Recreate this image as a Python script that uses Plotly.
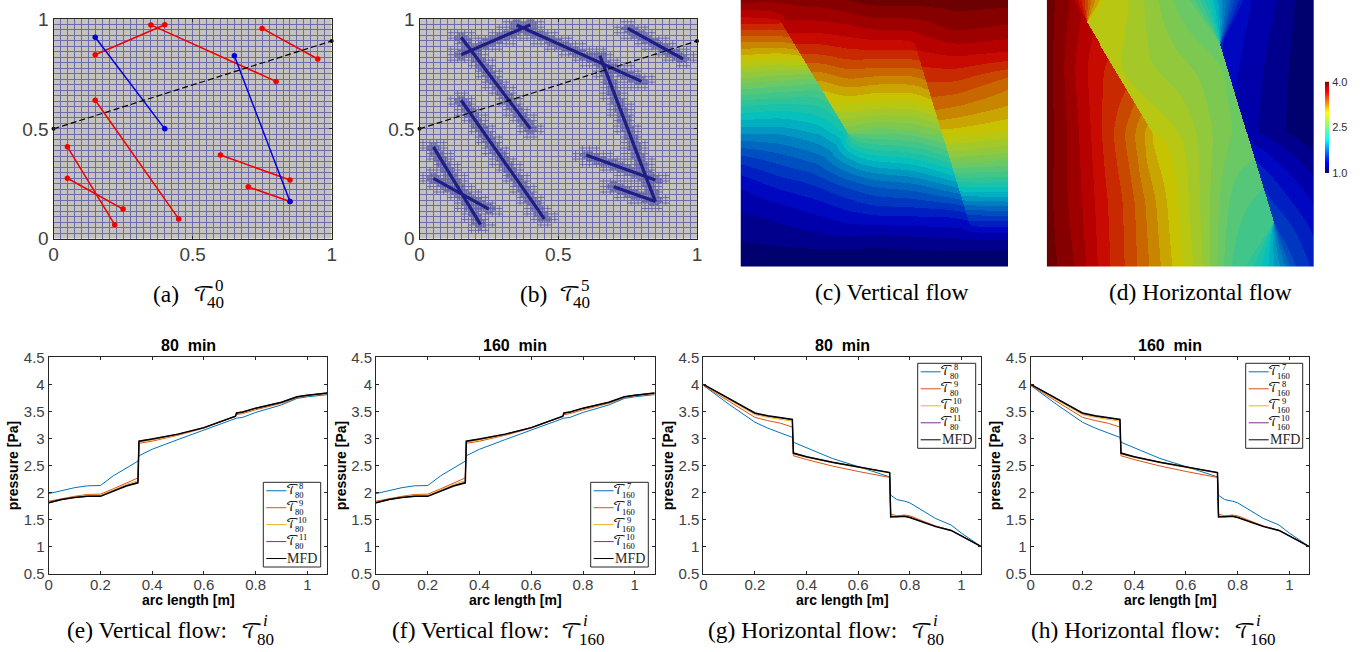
import numpy as np
import plotly.graph_objects as go

W, H = 1370, 652

# ---------- data ----------
RED_FRACTURES = [
    [(0.15, 0.837), (0.40, 0.974)],
    [(0.35, 0.973), (0.80, 0.716)],
    [(0.75, 0.957), (0.95, 0.818)],
    [(0.15, 0.630), (0.45, 0.090)],
    [(0.05, 0.418), (0.22, 0.064)],
    [(0.05, 0.275), (0.25, 0.135)],
    [(0.60, 0.381), (0.85, 0.267)],
    [(0.70, 0.236), (0.85, 0.169)],
]
BLUE_FRACTURES = [
    [(0.15, 0.917), (0.40, 0.500)],
    [(0.65, 0.833), (0.85, 0.169)],
]
SECTION_X = [0, 1]
SECTION_Y = [0.5, 0.9]
MESH_TICKS = [0, 0.5, 1]

# pressure along the section, vertical flow
arc_v = [0, .05, .1, .15, .2, .25, .3, .345, .349, .4, .5, .6, .7, .722, .726, .75, .8, .9, .96, 1, 1.077]
v_blue = [1.98, 2.03, 2.09, 2.125, 2.13, 2.31, 2.46, 2.58, 2.68, 2.80, 2.98, 3.15, 3.33, 3.37, 3.375, 3.39, 3.48, 3.62, 3.74, 3.77, 3.81]
v_orange = [1.84, 1.89, 1.93, 1.965, 1.97, 2.07, 2.18, 2.27, 2.91, 2.95, 3.06, 3.19, 3.37, 3.40, 3.44, 3.46, 3.53, 3.65, 3.75, 3.79, 3.83]
v_yellow = [1.82, 1.875, 1.92, 1.95, 1.95, 2.05, 2.15, 2.22, 2.93, 2.97, 3.07, 3.2, 3.38, 3.41, 3.46, 3.48, 3.55, 3.66, 3.76, 3.8, 3.83]
v_purple = [1.81, 1.87, 1.91, 1.93, 1.935, 2.03, 2.13, 2.19, 2.95, 2.99, 3.08, 3.2, 3.38, 3.41, 3.47, 3.49, 3.56, 3.67, 3.77, 3.8, 3.84]
v_black = [1.81, 1.87, 1.91, 1.93, 1.93, 2.03, 2.12, 2.18, 2.95, 2.99, 3.08, 3.2, 3.38, 3.41, 3.47, 3.49, 3.56, 3.67, 3.77, 3.8, 3.84]

# pressure along the section, horizontal flow
arc_h = [0, .1, .2, .25, .3, .345, .349, .4, .5, .6, .7, .722, .726, .75, .78, .8, .9, .96, 1, 1.077]
h_blue = [3.98, 3.63, 3.30, 3.19, 3.10, 3.02, 2.93, 2.83, 2.63, 2.48, 2.33, 2.29, 1.95, 1.87, 1.84, 1.81, 1.52, 1.40, 1.25, 1.0]
h_orange = [3.98, 3.68, 3.39, 3.33, 3.28, 3.21, 2.68, 2.61, 2.49, 2.39, 2.30, 2.28, 1.60, 1.57, 1.585, 1.57, 1.38, 1.30, 1.20, 1.0]
h_yellow = [3.99, 3.72, 3.44, 3.39, 3.36, 3.32, 2.71, 2.65, 2.55, 2.46, 2.38, 2.36, 1.57, 1.56, 1.57, 1.55, 1.38, 1.30, 1.20, 1.0]
h_purple = [4.0, 3.74, 3.46, 3.41, 3.38, 3.35, 2.72, 2.66, 2.56, 2.47, 2.39, 2.37, 1.56, 1.55, 1.56, 1.54, 1.38, 1.30, 1.20, 1.0]
h_black = [4.0, 3.74, 3.47, 3.42, 3.39, 3.35, 2.73, 2.66, 2.56, 2.47, 2.39, 2.37, 1.55, 1.55, 1.56, 1.54, 1.37, 1.30, 1.20, 1.0]

# pressure fields, read per zone; rows are y-nodes, columns x-nodes
C_Y = [1, .9, .8, .7, .6, .5, .4, .3, .2, .1, .05, 0]
C_L_X = [0, .15, .3, .4, .5, .65, .8, 1]
C_L = np.array([
    [3.85, 3.80, 3.80, 3.85, 3.95, 3.95, 3.95, 3.95],
    [3.45, 3.50, 3.55, 3.60, 3.75, 3.75, 3.80, 3.80],
    [3.10, 3.05, 3.20, 3.30, 3.50, 3.50, 3.60, 3.60],
    [2.65, 2.60, 2.50, 2.80, 3.20, 3.20, 3.40, 3.30],
    [2.20, 2.15, 2.20, 2.40, 2.90, 2.90, 3.10, 3.15],
    [1.85, 1.85, 1.95, 2.15, 2.50, 2.55, 2.70, 2.90],
    [1.50, 1.60, 1.70, 1.85, 2.05, 2.10, 2.30, 2.60],
    [1.28, 1.40, 1.45, 1.55, 1.65, 1.70, 1.85, 2.15],
    [1.18, 1.22, 1.28, 1.35, 1.40, 1.40, 1.40, 1.60],
    [1.10, 1.12, 1.15, 1.18, 1.13, 1.15, 1.17, 1.15],
    [1.05, 1.06, 1.07, 1.05, 1.06, 1.07, 1.07, 1.07],
    [1.00, 1.00, 1.00, 1.00, 1.00, 1.00, 1.00, 1.00],
])
C_M_X = [.3, .4, .5, .65, .8, 1]
C_M = np.array([
    [3.85, 3.90, 3.95, 3.95, 3.95, 3.95],
    [3.68, 3.70, 3.75, 3.75, 3.80, 3.80],
    [3.45, 3.50, 3.50, 3.50, 3.60, 3.60],
    [3.15, 3.25, 3.20, 3.20, 3.40, 3.30],
    [2.90, 2.95, 2.90, 2.90, 3.10, 3.15],
    [2.60, 2.60, 2.50, 2.55, 2.70, 2.90],
    [2.05, 2.05, 2.05, 2.10, 2.30, 2.60],
    [1.60, 1.60, 1.65, 1.70, 1.85, 2.15],
    [1.35, 1.35, 1.40, 1.40, 1.40, 1.60],
    [1.15, 1.15, 1.13, 1.15, 1.17, 1.15],
    [1.05, 1.05, 1.06, 1.07, 1.07, 1.07],
    [1.00, 1.00, 1.00, 1.00, 1.00, 1.00],
])
C_R_X = [.65, .8, 1]
C_R = np.array([
    [3.95, 3.95, 3.95],
    [3.75, 3.85, 3.80],
    [3.60, 3.65, 3.62],
    [3.45, 3.45, 3.30],
    [3.30, 3.25, 3.15],
    [3.10, 3.05, 2.95],
    [2.80, 2.75, 2.60],
    [2.25, 2.25, 2.15],
    [1.40, 1.65, 1.60],
    [1.15, 1.20, 1.15],
    [1.07, 1.08, 1.07],
    [1.00, 1.00, 1.00],
])

D_Y = [1, .75, .5, .25, 0]
D_X = [0, .05, .1, .2, .3, .4, .5, .6, .7, .85, 1]
D_L = np.array([
    [3.95, 3.88, 3.78, 3.62, 3.55, 3.50, 3.50, 3.50, 3.50, 3.50, 3.50],
    [3.95, 3.85, 3.72, 3.53, 3.50, 3.40, 3.20, 3.00, 2.80, 2.60, 2.60],
    [3.95, 3.87, 3.76, 3.55, 3.33, 3.05, 2.95, 2.75, 2.60, 2.55, 2.55],
    [3.95, 3.85, 3.78, 3.58, 3.42, 3.18, 2.95, 2.72, 2.45, 2.35, 2.35],
    [3.95, 3.90, 3.82, 3.60, 3.43, 3.22, 3.00, 2.75, 2.35, 2.30, 2.30],
])
D_M = np.array([
    [2.95, 2.95, 2.95, 2.95, 2.90, 2.72, 2.55, 2.42, 2.40, 2.40, 2.40],
    [2.95, 2.95, 2.95, 2.95, 2.85, 2.78, 2.72, 2.65, 2.55, 2.55, 2.55],
    [3.10, 3.10, 3.10, 3.05, 3.00, 2.95, 2.88, 2.72, 2.58, 2.55, 2.55],
    [3.95, 3.85, 3.78, 3.58, 3.42, 3.18, 2.95, 2.72, 2.45, 2.35, 2.35],
    [3.95, 3.90, 3.82, 3.60, 3.43, 3.22, 3.00, 2.75, 2.35, 2.30, 2.30],
])
D_R_X = [.6, .7, .85, 1]
D_R = np.array([
    [1.50, 1.35, 1.20, 1.00],
    [1.45, 1.30, 1.15, 1.00],
    [1.30, 1.27, 1.13, 1.00],
    [1.30, 1.30, 1.15, 1.00],
    [1.40, 1.35, 1.30, 1.00],
])
COLORBAR_TICKS = [1.0, 2.5, 4.0]

# ---------- colour scales ----------
FIELD_SCALE = [[0, '#000060'], [.1, '#0000c0'], [.35, '#00c0c0'], [.5, '#60c870'],
               [.667, '#c8c800'], [.87, '#c80000'], [1, '#600000']]
BAR_SCALE = [[0, '#00007f'], [.11, '#0000ff'], [.36, '#00ffff'], [.5, '#7fff7f'],
             [.66, '#ffff00'], [.89, '#ff0000'], [1, '#7f0000']]
C_BLUE, C_ORANGE, C_YELLOW, C_PURPLE = '#0072BD', '#D95319', '#EDB120', '#7E2F8E'
INK = '#262626'
TICK_INK = '#404040'
SANS = 'Liberation Sans'
SERIF = 'Liberation Serif'
SCRIPT = 'DejaVu Math TeX Gyre, DejaVu Serif, Noto Sans, Liberation Serif'

fig = go.Figure()
axes = {}
shapes, annots = [], []
n_ax = [0]


def px_dom(x0, x1, y0, y1):
    return [x0 / W, x1 / W], [1 - y1 / H, 1 - y0 / H]


def new_axes(x0, x1, y0, y1, xa, ya):
    n_ax[0] += 1
    k = n_ax[0]
    dx, dy = px_dom(x0, x1, y0, y1)
    xn = 'xaxis' if k == 1 else f'xaxis{k}'
    yn = 'yaxis' if k == 1 else f'yaxis{k}'
    ref_x = 'x' if k == 1 else f'x{k}'
    ref_y = 'y' if k == 1 else f'y{k}'
    axes[xn] = dict(domain=dx, anchor=ref_y, automargin=False, **xa)
    axes[yn] = dict(domain=dy, anchor=ref_x, automargin=False, **ya)
    return ref_x, ref_y


def text(x, y, s, size, font=SERIF, color='black', bold=False, xanchor='center'):
    annots.append(dict(xref='paper', yref='paper', x=x / W, y=1 - y / H, text=f'<b>{s}</b>' if bold else s,
                       showarrow=False, xanchor=xanchor, yanchor='middle', borderpad=0, borderwidth=0,
                       font=dict(family=font, size=size, color=color)))


def calT(x, y, sup, sub, size, dsup=(14, -9), dsub=(10, 7), small=None):
    small = small or size * 0.68
    text(x, y, '\U0001D4AF', size, font=SCRIPT)
    text(x + dsup[0], y + dsup[1], sup, small)
    text(x + dsub[0], y + dsub[1], sub, small)


def tick_style(size):
    return dict(ticks='inside', ticklen=3, tickwidth=0.8, tickcolor=INK, showline=True, linecolor=INK, linewidth=1,
                mirror='ticks', zeroline=False, tickfont=dict(family=SANS, size=size, color=TICK_INK))


# ---------- mesh panels (a), (b) ----------
def mesh_axes(x0, x1):
    grid = dict(showgrid=True, gridcolor='#6c6cab', gridwidth=0.8,
                minor=dict(dtick=0.025, showgrid=True, gridcolor='#6c6cab', gridwidth=0.8, ticklen=0))
    xa = dict(range=[0, 1], tickvals=MESH_TICKS, ticktext=['0', '0.5', '1'], ticklabelstandoff=-2, **grid, **tick_style(19))
    ya = dict(range=[0, 1], tickvals=MESH_TICKS, ticktext=['0', '0.5', '1'], **grid, **tick_style(19))
    rx, ry = new_axes(x0, x1, 19, 238.7, xa, ya)
    shapes.append(dict(type='rect', xref=rx, yref=ry, x0=0, x1=1, y0=0, y1=1, layer='below',
                       fillcolor='#c6c3be', line=dict(width=0)))
    return rx, ry


def add_section(rx, ry):
    fig.add_trace(go.Scatter(x=SECTION_X, y=SECTION_Y, xaxis=rx, yaxis=ry, mode='lines+markers', cliponaxis=False,
                             line=dict(color='black', width=1.2, dash='6px,3px'), marker=dict(size=4, color='black'),
                             showlegend=False))


rx, ry = mesh_axes(53.5, 331.7)
for seg in RED_FRACTURES:
    fig.add_trace(go.Scatter(x=[p[0] for p in seg], y=[p[1] for p in seg], xaxis=rx, yaxis=ry, mode='lines+markers',
                             line=dict(color='#f00000', width=1.5), marker=dict(size=5.5, color='#f00000'),
                             showlegend=False))
for seg in BLUE_FRACTURES:
    fig.add_trace(go.Scatter(x=[p[0] for p in seg], y=[p[1] for p in seg], xaxis=rx, yaxis=ry, mode='lines+markers',
                             line=dict(color='#0000e0', width=1.5), marker=dict(size=5.5, color='#0000e0'),
                             showlegend=False))
add_section(rx, ry)


def seg_dist(px, py, seg):
    (ax, ay), (bx, by) = seg
    ux, uy = bx - ax, by - ay
    t = np.clip(((px - ax) * ux + (py - ay) * uy) / (ux * ux + uy * uy), 0, 1)
    return np.hypot(px - ax - t * ux, py - ay - t * uy)


ALL_FRACTURES = RED_FRACTURES + BLUE_FRACTURES
rx, ry = mesh_axes(419.5, 697)
REFINE_RADIUS = [0.046, 0.022]
cells = [(i / 40, j / 40, 1 / 40) for i in range(40) for j in range(40)]
lx, ly = [], []
for rad in REFINE_RADIUS:
    nxt = []
    for cx, cy, h in cells:
        d = min(seg_dist(cx + h / 2, cy + h / 2, s) for s in ALL_FRACTURES)
        if d < rad:
            lx += [cx + h / 2, cx + h / 2, None, cx, cx + h, None]
            ly += [cy, cy + h, None, cy + h / 2, cy + h / 2, None]
            for a in (0, h / 2):
                for b in (0, h / 2):
                    nxt.append((cx + a, cy + b, h / 2))
    cells = nxt
fig.add_trace(go.Scatter(x=lx, y=ly, xaxis=rx, yaxis=ry, mode='lines', line=dict(color='#5a5aa6', width=0.8),
                         hoverinfo='skip', showlegend=False))
for seg in ALL_FRACTURES:
    fig.add_trace(go.Scatter(x=[p[0] for p in seg], y=[p[1] for p in seg], xaxis=rx, yaxis=ry, mode='lines',
                             line=dict(color='#1e1e84', width=3.2), showlegend=False))
add_section(rx, ry)


# ---------- field panels (c), (d) ----------
def bilinear(xn, yn, table, X, Y):
    xn = np.asarray(xn, float)
    yn = np.asarray(yn, float)[::-1]
    tb = np.asarray(table, float)[::-1]
    i = np.clip(np.searchsorted(xn, X) - 1, 0, len(xn) - 2)
    j = np.clip(np.searchsorted(yn, Y) - 1, 0, len(yn) - 2)
    a = np.clip((X - xn[i]) / (xn[i + 1] - xn[i]), 0, 1)
    b = np.clip((Y - yn[j]) / (yn[j + 1] - yn[j]), 0, 1)
    return (tb[j, i] * (1 - a) * (1 - b) + tb[j, i + 1] * a * (1 - b) +
            tb[j + 1, i] * (1 - a) * b + tb[j + 1, i + 1] * a * b)


def smooth(a, r=8, passes=2):
    k = np.ones(2 * r + 1) / (2 * r + 1)
    for _ in range(passes):
        for ax in (0, 1):
            pad = [(r, r) if i == ax else (0, 0) for i in (0, 1)]
            a = np.apply_along_axis(lambda v: np.convolve(v, k, mode='valid'), ax, np.pad(a, pad, mode='reflect', reflect_type='odd'))
    return a


def side_weight(seg, X, Y, top_fan, low_fan):
    (ax, ay), (bx, by) = seg
    L = np.hypot(bx - ax, by - ay)
    ux, uy = (bx - ax) / L, (by - ay) / L
    nx, ny = -uy, ux   # points to the right-hand (upper) side of a falling segment
    t = (X - ax) * ux + (Y - ay) * uy
    d = (X - ax) * nx + (Y - ay) * ny
    w = (d > 0).astype(float)
    # beyond the upper tip
    m = t < 0
    th = np.degrees(np.arctan2(d[m], -t[m]))
    w[m] = np.clip(.5 + (th - top_fan[0]) / top_fan[1], 0, 1)
    # beyond the lower tip
    m = t > L
    rx_ = X[m] - bx
    ry_ = Y[m] - by
    th = np.degrees(np.arctan2(rx_ * nx + ry_ * ny, rx_ * ux + ry_ * uy))
    w[m] = np.clip(.5 + (th - low_fan[0]) / low_fan[1], 0, 1)
    return w


NPX = 268
gx = (np.arange(NPX) + .5) / NPX
X, Y = np.meshgrid(gx, gx)
LEVELS = 32


def field(pL, pM, pR, fans):
    w1 = side_weight(BLUE_FRACTURES[0], X, Y, *fans[0])
    w2 = side_weight(BLUE_FRACTURES[1], X, Y, *fans[1])
    pL, pM, pR = smooth(pL), smooth(pM), smooth(pR)
    p = pL * (1 - w1) + w1 * (pM * (1 - w2) + pR * w2)
    q = np.floor((p - 1) / 3 * LEVELS) + .5
    return np.round(1 + np.clip(q, 0, LEVELS) * 3 / LEVELS, 3)


zc = field(bilinear(C_L_X, C_Y, C_L, X, Y), bilinear(C_M_X, C_Y, C_M, X, Y), bilinear(C_R_X, C_Y, C_R, X, Y),
           [((0, 180), (0, 150)), ((0, 120), (0, 120))])
zd = field(bilinear(D_X, D_Y, D_L, X, Y), bilinear(D_X, D_Y, D_M, X, Y), bilinear(D_R_X, D_Y, D_R, X, Y),
           [((35, 80), (0, 120)), ((15, 65), (-22, 60))])

for z, x0, x1 in ((zc, 740.5, 1008), (zd, 1046.7, 1314)):
    rx, ry = new_axes(x0, x1, 0, 266.5, dict(range=[0, 1], visible=False), dict(range=[0, 1], visible=False))
    fig.add_trace(go.Heatmap(z=z.tolist(), x0=gx[0], dx=gx[1] - gx[0], y0=gx[0], dy=gx[1] - gx[0], xaxis=rx, yaxis=ry,
                             colorscale=FIELD_SCALE, zmin=1, zmax=4, showscale=False, hoverinfo='skip'))

# colour bar
bar_levels = np.linspace(1, 4, 92)
rx, ry = new_axes(1325, 1329, 81.7, 173,
                  dict(range=[0, 1], visible=False),
                  dict(range=[1, 4], side='right', tickvals=COLORBAR_TICKS, ticktext=['1.0', '2.5', '4.0'],
                       ticks='outside', ticklen=0, showline=False, zeroline=False, showgrid=False,
                       tickfont=dict(family=SANS, size=11, color='#303030')))
fig.add_trace(go.Heatmap(z=[[v] for v in bar_levels], x=[.5], y=bar_levels, xaxis=rx, yaxis=ry, colorscale=BAR_SCALE,
                         zmin=1, zmax=4, showscale=False, hoverinfo='skip'))


# ---------- pressure panels (e)-(h) ----------
def line_panel(x0, x1, title, arc, series, legend_names, legend_box):
    y0, y1 = 357.3, 573.7
    xa = dict(range=[0, 1.077], tickvals=[0, .2, .4, .6, .8, 1], ticktext=['0', '0.2', '0.4', '0.6', '0.8', '1'],
              showgrid=False, ticklabelstandoff=-3, **tick_style(15))
    ya = dict(range=[.5, 4.5], tickvals=[.5, 1, 1.5, 2, 2.5, 3, 3.5, 4, 4.5],
              ticktext=['0.5', '1', '1.5', '2', '2.5', '3', '3.5', '4', '4.5'], showgrid=False,
              title=dict(text='<b>pressure [Pa]</b>', standoff=1, font=dict(family=SANS, size=14, color='black')),
              **tick_style(15))
    rx, ry = new_axes(x0, x1, y0, y1, xa, ya)
    colors = [C_BLUE, C_ORANGE, C_YELLOW, C_PURPLE, 'black']
    widths = [1, 1, 1, 1, 1.5]
    for s, c, lw in zip(series, colors, widths):
        fig.add_trace(go.Scatter(x=arc, y=s, xaxis=rx, yaxis=ry, mode='lines', line=dict(color=c, width=lw),
                                 showlegend=False))
    text((x0 + x1) / 2, 345, title, 16, font=SANS, color='black', bold=True)
    text((x0 + x1) / 2, 600, 'arc length [m]', 14, font=SANS, color='black', bold=True)
    bx0, bx1, by0, by1 = legend_box
    shapes.append(dict(type='rect', xref='paper', yref='paper', x0=bx0 / W, x1=bx1 / W, y0=1 - by1 / H, y1=1 - by0 / H,
                       fillcolor='white', line=dict(color=INK, width=1)))
    step = (by1 - by0) / 5
    for i, (nm, c) in enumerate(zip(legend_names, colors)):
        yy = by0 + step * (i + .5)
        shapes.append(dict(type='line', xref='paper', yref='paper', x0=(bx0 + 3) / W, x1=(bx0 + 23) / W,
                           y0=1 - yy / H, y1=1 - yy / H, line=dict(color=c, width=1)))
        if nm == 'MFD':
            text(bx0 + 24, yy, nm, 14, color=INK, xanchor='left')
        else:
            calT(bx0 + 29, yy, nm[0], nm[1], 12.5, dsup=(7.5 + len(nm[0]) * 1.5, -4.5),
                 dsub=(4 + len(nm[1]) * 1.7, 4), small=8.5)


V_SERIES = [v_blue, v_orange, v_yellow, v_purple, v_black]
H_SERIES = [h_blue, h_orange, h_yellow, h_purple, h_black]
LEG_80 = [('8', '80'), ('9', '80'), ('10', '80'), ('11', '80'), 'MFD']
LEG_160 = [('7', '160'), ('8', '160'), ('9', '160'), ('10', '160'), 'MFD']
line_panel(48.7, 327.3, '80  min', arc_v, V_SERIES, LEG_80, (263.3, 320.7, 482.3, 567))
line_panel(376, 654.7, '160  min', arc_v, V_SERIES, LEG_160, (590.7, 648.3, 482.3, 567))
line_panel(703.3, 981.3, '80  min', arc_h, H_SERIES, LEG_80, (917.7, 975.7, 363.3, 448.3))
line_panel(1030.7, 1309.3, '160  min', arc_h, H_SERIES, LEG_160, (1245.7, 1302.7, 363.3, 448.3))

# ---------- captions ----------
CAP = 23.5
TCAP = 21
text(166, 294, '(a)', CAP)
calT(204, 294, '0', '40', TCAP, dsup=(15, -9), dsub=(11, 8), small=17)
text(533, 294, '(b)', CAP)
calT(570, 294, '5', '40', TCAP, dsup=(15, -9), dsub=(11, 8), small=17)
text(892, 292, '(c) Vertical flow', CAP)
text(1200, 292, '(d) Horizontal flow', CAP)
text(147, 630, '(e) Vertical flow:', CAP)
calT(252, 631, '<i>i</i>', '80', TCAP, dsup=(13, -11), dsub=(13, 8), small=17)
text(470, 630, '(f) Vertical flow:', CAP)
calT(572, 631, '<i>i</i>', '160', TCAP, dsup=(13, -11), dsub=(20, 8), small=17)
text(802, 630, '(g) Horizontal flow:', CAP)
calT(922, 631, '<i>i</i>', '80', TCAP, dsup=(13, -11), dsub=(13, 8), small=17)
text(1125, 630, '(h) Horizontal flow:', CAP)
calT(1245, 631, '<i>i</i>', '160', TCAP, dsup=(13, -11), dsub=(18, 8), small=17)

fig.update_layout(template='none', width=W, height=H, autosize=False,
                  margin=dict(l=0, r=0, t=0, b=0, pad=0, autoexpand=False), paper_bgcolor='white',
                  plot_bgcolor='white', showlegend=False, shapes=shapes, annotations=annots, **axes)
fig.write_html('out.html', post_script="document.body.style.margin='0';",
               config=dict(displayModeBar=False))
